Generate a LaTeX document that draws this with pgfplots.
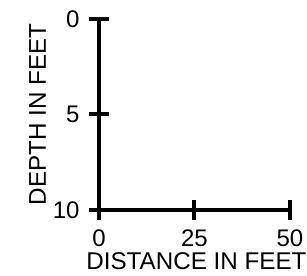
\documentclass[border=0pt]{standalone}
\usepackage{fontspec}
\setmainfont{Liberation Sans}
\usepackage{pgfplots}
\pgfplotsset{compat=1.18}
\begin{document}
\begin{tikzpicture}
\useasboundingbox (-99pt,-65pt) rectangle (208pt,210pt);
\begin{axis}[
  at={(0,0)}, anchor=south west,
  scale only axis, width=191pt, height=191pt,
  xmin=0, xmax=50, ymin=0, ymax=10,
  axis x line=bottom, axis y line=left,
  axis line style={line width=4pt, -},
  xtick={0,25,50}, ytick={0,5,10}, yticklabels={10,5,0},
  tick align=center, major tick length=20pt,
  every tick/.style={line width=4pt, black},
  /pgf/number format/assume math mode=true,
  tick label style={font=\fontsize{24}{28}\selectfont},
  xticklabel style={anchor=center, yshift=-18.5pt},
  yticklabel style={anchor=east, xshift=-6pt},
  label style={font=\fontsize{24.2}{28}\selectfont},
  xlabel={DISTANCE IN FEET},
  ylabel={DEPTH IN FEET},
  xlabel style={at={(axis description cs:0.51,-0.267)}, anchor=center},
  ylabel style={at={(axis description cs:-0.322,0.5)}, anchor=center},
]
\addplot[draw=none] coordinates {(0,0)};
\end{axis}
\end{tikzpicture}
\end{document}
